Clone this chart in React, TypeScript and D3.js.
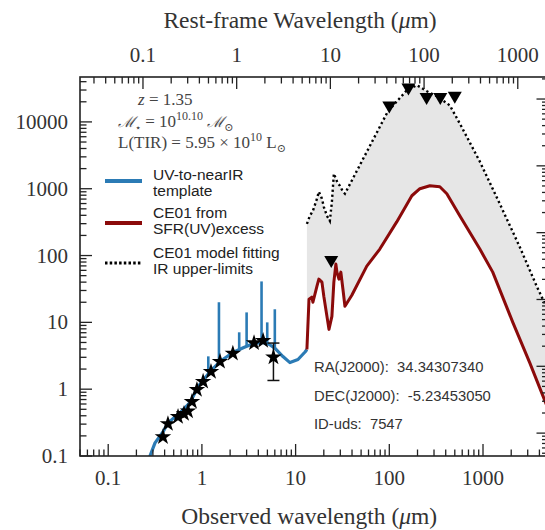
import React from 'react';
import * as d3 from 'd3';

// Redshift of the source: top axis shows rest-frame wavelength = observed / (1 + z)
const REDSHIFT = 1.35;
// Offset of the secondary (right-hand) flux axis relative to the left one
const RIGHT_AXIS_FACTOR = 2.2;

// UV-to-nearIR template continuum (observed wavelength in micron, flux)
const blueWave = [0.25, 0.279, 0.316, 0.384, 0.434, 0.583, 0.746, 0.907, 1.22, 1.56, 2.14, 2.8, 3.5, 4.4, 5.2, 6.0, 7.33, 8.7, 10.6, 12.6, 13.2];
const blueFlux = [0.06, 0.1, 0.157, 0.229, 0.313, 0.443, 0.627, 1.09, 1.83, 2.59, 3.54, 4.2, 4.8, 5.0, 4.7, 4.1, 3.08, 2.5, 2.78, 3.6, 3.93];

// Emission lines on top of the template
const lineWave = [1.17, 1.52, 2.5, 3.0, 4.33, 4.98, 6.0];
const linePeak = [3.1, 20, 7.1, 14.1, 41, 10, 15.7];

// CE01 template scaled from SFR(UV) excess
const redWave = [13.2, 13.9, 14.9, 15.3, 16.9, 17.7, 19.1, 20.0, 21.6, 22.7, 24.4, 25.6, 26.9, 27.6, 29.0, 30.4, 32.0, 33.6, 39.8, 57.5, 79.2, 120, 174, 212, 271, 346, 411, 565, 925, 1270, 2080, 3150, 5000];
const redFlux = [3.93, 22.2, 23.8, 20.0, 34.8, 44.4, 40.0, 24.6, 12.3, 7.85, 12.3, 40.0, 74.5, 56.5, 44.4, 56.5, 31.3, 17.4, 25.5, 69.5, 125, 319, 785, 1000, 1110, 1070, 841, 393, 125, 56.5, 10.0, 2.5, 0.49];

// CE01 model fitting the IR upper limits
const irWave = [13.2, 14.2, 15.3, 16.9, 17.7, 19.1, 20.0, 21.6, 23.2, 24.4, 25.6, 26.9, 28.3, 29.7, 32.0, 33.6, 96.6, 154, 197, 252, 321, 442, 565, 925, 1510, 2470, 3740, 5000];
const irFlux = [298, 393, 467, 708, 902, 708, 536, 393, 330, 638, 1680, 1410, 1190, 1110, 902, 841, 14400, 29800, 35400, 28800, 24200, 17700, 9490, 2550, 594, 134, 34.8, 14.6];

// Photometric detections
const photWave = [0.384, 0.434, 0.556, 0.644, 0.711, 0.783, 0.885, 1.03, 1.25, 1.56, 2.14, 3.6, 4.5, 5.8];
const photFlux = [0.193, 0.303, 0.386, 0.428, 0.47, 0.649, 0.983, 1.30, 1.83, 2.59, 3.42, 4.9, 5.3, 3.0];
const errWave = [5.8];
const errLow = [1.35];
const errHigh = [4.9];

// Upper limits
const limWave = [24, 100, 160, 250, 350, 500];
const limFlux = [80, 16500, 30500, 22000, 22000, 23000];

// Tick labels
const xTickLabels = ['0.1', '1', '10', '100', '1000'];
const restTickLabels = ['0.1', '1', '10', '100', '1000'];
const yTickLabels = ['0.1', '1', '10', '100', '1000', '10000'];

const infoLines = ['RA(J2000):  34.34307340', 'DEC(J2000):  -5.23453050', 'ID-uds:  7547'];

const BLUE = '#2b7bb5';
const RED = '#8b0a0a';
const SHADE = '#e6e6e6';
const SERIF = '"Liberation Serif", "DejaVu Serif", serif';
const SANS = '"Liberation Sans", Arial, sans-serif';

const L = 80, R = 548.5, T = 77, B = 456;

const x = d3.scaleLog().domain([0.05, 5000]).range([L, R]);
const y = d3.scaleLog().domain([0.1, 47000]).range([B, T]);

function logTicks(lo: number, hi: number) {
  const out: { v: number; major: boolean }[] = [];
  for (let e = -3; e <= 6; e++) {
    for (let k = 1; k < 10; k++) {
      const v = k * Math.pow(10, e);
      if (v >= lo * 0.9999 && v <= hi * 1.0001) out.push({ v, major: k === 1 });
    }
  }
  return out;
}

function interpLog(xs: number[], ys: number[], v: number) {
  for (let i = 0; i < xs.length - 1; i++) {
    if (v >= xs[i] && v <= xs[i + 1]) {
      const t = (Math.log(v) - Math.log(xs[i])) / (Math.log(xs[i + 1]) - Math.log(xs[i]));
      return Math.exp(Math.log(ys[i]) + t * (Math.log(ys[i + 1]) - Math.log(ys[i])));
    }
  }
  return ys[ys.length - 1];
}

const zip = (a: number[], b: number[]) => a.map((v, i) => [v, b[i]] as [number, number]);

export default function App() {
  const line = d3.line<[number, number]>().x(d => x(d[0])).y(d => y(d[1]));
  const bluePath = line(zip(blueWave, blueFlux)) || '';
  const redPath = line(zip(redWave, redFlux)) || '';
  const irPath = line(zip(irWave, irFlux)) || '';
  const shadePts = [...zip(irWave, irFlux), ...zip(redWave, redFlux).reverse()];
  const shadePath = (line(shadePts) || '') + 'Z';

  const starPath = d3.symbol(d3.symbolStar, 85)() || '';
  const triPath = 'M-7,-6L7,-6L0,6Z';

  const xTicks = logTicks(0.05, 5000);
  const restTicks = logTicks(0.05 / (1 + REDSHIFT), 5000 / (1 + REDSHIFT));
  const yTicks = logTicks(0.1, 47000);
  const rTicks = logTicks(0.1 / RIGHT_AXIS_FACTOR, 47000 / RIGHT_AXIS_FACTOR);

  const majorX = xTicks.filter(t => t.major);
  const majorRest = restTicks.filter(t => t.major);
  const majorY = yTicks.filter(t => t.major);

  const tickColor = '#222';
  const textColor = '#333';

  return (
    <svg width={545} height={530} style={{ position: 'absolute', left: 0, top: 0, background: '#fff' }}>
      <defs>
        <clipPath id="plot">
          <rect x={L} y={T} width={R - L} height={B - T} />
        </clipPath>
      </defs>

      <g clipPath="url(#plot)">
        <path d={shadePath} fill={SHADE} stroke="none" />
        <path d={irPath} fill="none" stroke="#000" strokeWidth={2.4} strokeDasharray="2.2 2.8" />
        <path d={bluePath} fill="none" stroke={BLUE} strokeWidth={3.2} strokeLinejoin="round" />
        {lineWave.map((w, i) => (
          <line key={i} x1={x(w)} x2={x(w)} y1={y(interpLog(blueWave, blueFlux, w))} y2={y(linePeak[i])}
            stroke={BLUE} strokeWidth={2.6} />
        ))}
        <path d={redPath} fill="none" stroke={RED} strokeWidth={3} strokeLinejoin="round" />

        {errWave.map((w, i) => (
          <g key={i} stroke="#111" strokeWidth={1.5}>
            <line x1={x(w)} x2={x(w)} y1={y(errLow[i])} y2={y(errHigh[i])} />
            <line x1={x(w) - 6} x2={x(w) + 6} y1={y(errLow[i])} y2={y(errLow[i])} />
            <line x1={x(w) - 6} x2={x(w) + 6} y1={y(errHigh[i])} y2={y(errHigh[i])} />
          </g>
        ))}
        {photWave.map((w, i) => (
          <path key={i} d={starPath} transform={`translate(${x(w)},${y(photFlux[i])})`} fill="#000" />
        ))}
        {limWave.map((w, i) => (
          <path key={i} d={triPath} transform={`translate(${x(w)},${y(limFlux[i])})`} fill="#000" />
        ))}
      </g>

      {/* frame */}
      <rect x={L} y={T} width={R - L} height={B - T} fill="none" stroke={tickColor} strokeWidth={1.6} />

      {/* bottom axis: observed wavelength */}
      {xTicks.map((t, i) => (
        <line key={i} x1={x(t.v)} x2={x(t.v)} y1={B} y2={B - (t.major ? 12 : 6.5)} stroke={tickColor} strokeWidth={1.3} />
      ))}
      {majorX.map((t, i) => (
        <text key={i} x={x(t.v)} y={485} textAnchor="middle" fontFamily={SERIF} fontSize={21} fill={textColor}>
          {xTickLabels[i]}
        </text>
      ))}
      <text x={(L + R) / 2 - 5} y={524} textAnchor="middle" fontFamily={SERIF} fontSize={23.5} fill={textColor}>
        Observed wavelength (<tspan fontStyle="italic">μ</tspan>m)
      </text>

      {/* top axis: rest-frame wavelength */}
      {restTicks.map((t, i) => (
        <line key={i} x1={x(t.v * (1 + REDSHIFT))} x2={x(t.v * (1 + REDSHIFT))} y1={T} y2={T + (t.major ? 12 : 6.5)}
          stroke={tickColor} strokeWidth={1.3} />
      ))}
      {majorRest.map((t, i) => (
        <text key={i} x={x(t.v * (1 + REDSHIFT))} y={62} textAnchor="middle" fontFamily={SERIF} fontSize={21} fill={textColor}>
          {restTickLabels[i]}
        </text>
      ))}
      <text x={300} y={28} textAnchor="middle" fontFamily={SERIF} fontSize={23.5} fill={textColor}>
        Rest-frame Wavelength (<tspan fontStyle="italic">μ</tspan>m)
      </text>

      {/* left axis: flux */}
      {yTicks.map((t, i) => (
        <line key={i} x1={L} x2={L + (t.major ? 12 : 6.5)} y1={y(t.v)} y2={y(t.v)} stroke={tickColor} strokeWidth={1.3} />
      ))}
      {majorY.map((t, i) => (
        <text key={i} x={68} y={y(t.v) + 7} textAnchor="end" fontFamily={SERIF} fontSize={21} fill={textColor}>
          {yTickLabels[i]}
        </text>
      ))}

      {/* right axis ticks */}
      {rTicks.map((t, i) => (
        <line key={i} x1={R} x2={R - (t.major ? 12 : 6.5)} y1={y(t.v * RIGHT_AXIS_FACTOR)} y2={y(t.v * RIGHT_AXIS_FACTOR)}
          stroke={tickColor} strokeWidth={1.3} />
      ))}

      {/* source properties */}
      <g fontFamily={SERIF} fontSize={17} fill="#444">
        <text x={138} y={105}>
          <tspan fontStyle="italic">z</tspan> = 1.35
        </text>
        <text x={118} y={127}>
          <tspan fontFamily='"DejaVu Serif", serif' fontStyle="italic" fontSize={15}>ℳ</tspan>
          <tspan fontSize={10} dy={4}>⋆</tspan>
          <tspan dy={-4}> = 10</tspan>
          <tspan fontSize={12} dy={-7}>10.10</tspan>
          <tspan dy={7}> </tspan>
          <tspan fontFamily='"DejaVu Serif", serif' fontStyle="italic" fontSize={15}>ℳ</tspan>
          <tspan fontSize={11} dy={4}>⊙</tspan>
        </text>
        <text x={118} y={148}>
          L(TIR) = 5.95 × 10
          <tspan fontSize={12} dy={-7}>10</tspan>
          <tspan dy={7}> L</tspan>
          <tspan fontSize={11} dy={4}>⊙</tspan>
        </text>
      </g>

      {/* legend */}
      <g fontFamily={SANS} fontSize={15.5} fill="#222">
        <line x1={105} x2={142} y1={181} y2={181} stroke={BLUE} strokeWidth={4} />
        <text x={153} y={180}>UV-to-nearIR</text>
        <text x={153} y={196}>template</text>
        <line x1={105} x2={142} y1={223} y2={223} stroke={RED} strokeWidth={4} />
        <text x={153} y={218}>CE01 from</text>
        <text x={153} y={234}>SFR(UV)excess</text>
        <line x1={105} x2={142} y1={263} y2={263} stroke="#000" strokeWidth={3} strokeDasharray="2.5 2.2" />
        <text x={153} y={258}>CE01 model fitting</text>
        <text x={153} y={274}>IR upper-limits</text>
      </g>

      {/* coordinates */}
      <g fontFamily={SANS} fontSize={14.8} fill="#333">
        {infoLines.map((s, i) => (
          <text key={i} x={314} y={372 + i * 28.5} style={{ whiteSpace: 'pre' }}>{s}</text>
        ))}
      </g>
    </svg>
  );
}
